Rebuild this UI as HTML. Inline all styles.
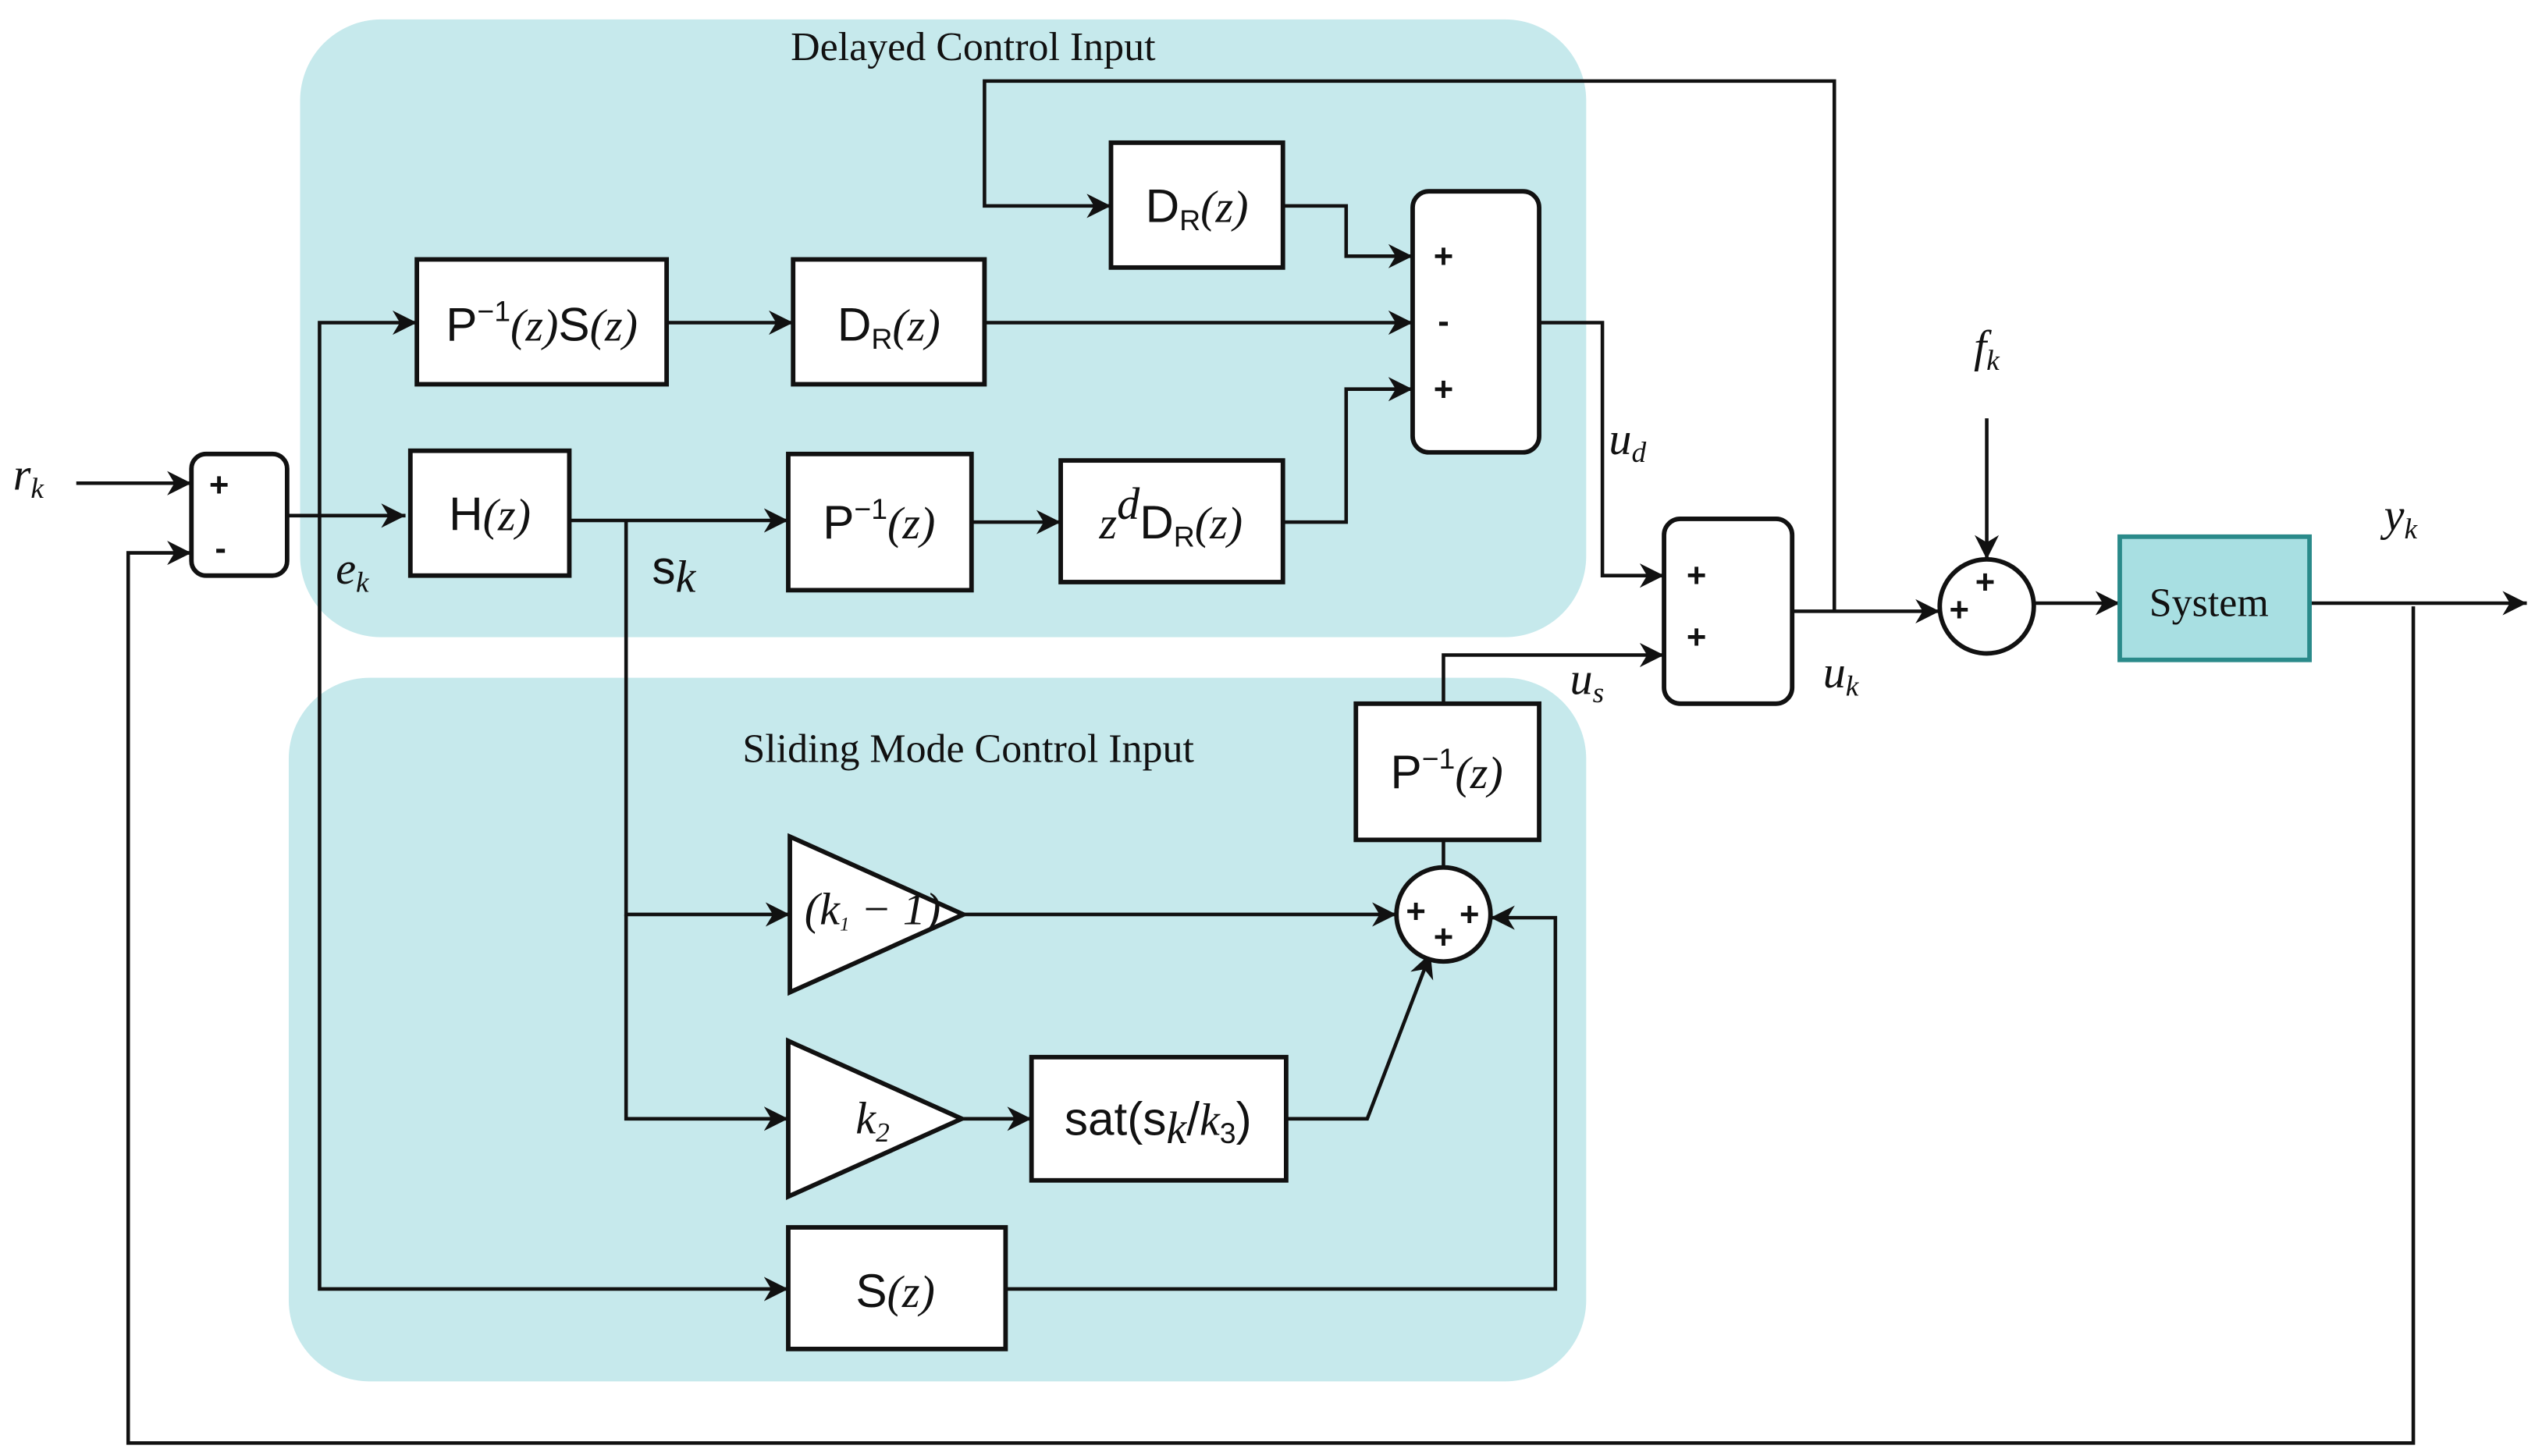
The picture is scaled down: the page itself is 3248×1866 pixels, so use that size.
<!DOCTYPE html>
<html><head><meta charset="utf-8"><style>
html,body{margin:0;padding:0;background:#fff}
svg{display:block}
.s{font-family:"Liberation Sans",sans-serif;font-size:29px;fill:#111}
.m{font-family:"Liberation Serif",serif;font-style:italic;font-size:28px;fill:#111}
.t{font-family:"Liberation Serif",serif;font-size:25px;fill:#111}
.p{font-family:"Liberation Sans",sans-serif;font-weight:bold;font-size:21px;fill:#111}
</style></head><body>
<svg width="3248" height="1866" viewBox="0 0 1563 898" xmlns="http://www.w3.org/2000/svg">
<defs>
<marker id="b" viewBox="0 0 10 10" refX="10" refY="5" markerWidth="15" markerHeight="15" orient="auto" markerUnits="userSpaceOnUse"><path d="M0,0 L10,5 L0,10 L3,5z" fill="#111"/></marker></defs>
<rect x="185" y="12" width="793" height="381" rx="50" fill="#c6e9ec"/>
<rect x="178" y="418" width="800" height="434" rx="50" fill="#c6e9ec"/>
<text class="t" x="600" y="37" text-anchor="middle">Delayed Control Input</text>
<text class="t" x="597" y="470" text-anchor="middle">Sliding Mode Control Input</text>
<g fill="none" stroke="#111" stroke-width="2.2" marker-end="url(#b)">
<path d="M47,298H118"/>
<path d="M1488,374V890H79V341H118"/>
<path d="M177,318H250"/>
<path d="M197,318V199H257"/>
<path d="M197,318V795H486"/>
<path d="M351,321H486"/>
<path d="M386,321V564H487"/>
<path d="M386,564V690H486"/>
<path d="M411,199H489"/>
<path d="M607,199H871"/>
<path d="M599,322H654"/>
<path d="M791,322H830V240H871"/>
<path d="M791,127H830V158H871"/>
<path d="M1131,377V50H607V127H685"/>
<path d="M949,199H988V355H1026"/>
<path d="M1105,377H1196"/>
<path d="M1225,258V345"/>
<path d="M1254,372H1307"/>
<path d="M1424,372H1558"/>
<path d="M890,434V404H1026"/>
<path d="M594,564H861"/>
<path d="M593,690H636"/>
<path d="M793,690H843L882,588"/>
<path d="M620,795H959V566H919"/>
</g>
<path d="M890,535V518" stroke="#111" stroke-width="2.2"/>
<g fill="#fff" stroke="#111" stroke-width="2.8">
<rect x="685" y="88" width="106" height="77"/>
<rect x="257" y="160" width="154" height="77"/>
<rect x="489" y="160" width="118" height="77"/>
<rect x="253" y="278" width="98" height="77"/>
<rect x="486" y="280" width="113" height="84"/>
<rect x="654" y="284" width="137" height="75"/>
<rect x="871" y="118" width="78" height="161" rx="10"/>
<rect x="118" y="280" width="59" height="75" rx="9"/>
<rect x="1026" y="320" width="79" height="114" rx="10"/>
<circle cx="1225" cy="374" r="29"/>
<rect x="836" y="434" width="113" height="84"/>
<path d="M487,516L487,612L594,564Z"/>
<path d="M486,642L486,738L593,690Z"/>
<rect x="636" y="652" width="157" height="76"/>
<rect x="486" y="757" width="134" height="75"/>
<circle cx="890" cy="564" r="29"/>
</g>
<rect x="1307" y="331" width="117" height="76" fill="#a8dfe2" stroke="#2a8a8a" stroke-width="2.8"/>
<text class="t" x="1362" y="380" text-anchor="middle" font-size="29">System</text>
<text class="s" x="738" y="137" text-anchor="middle">D<tspan font-size="18" dy="5">R</tspan><tspan class="m" dy="-5">(z)</tspan></text>
<text class="s" x="334" y="210" text-anchor="middle">P<tspan font-size="18" dy="-12">−1</tspan><tspan class="m" dy="12">(z)</tspan>S<tspan class="m">(z)</tspan></text>
<text class="s" x="548" y="210" text-anchor="middle">D<tspan font-size="18" dy="5">R</tspan><tspan class="m" dy="-5">(z)</tspan></text>
<text class="s" x="302" y="327" text-anchor="middle">H<tspan class="m">(z)</tspan></text>
<text class="s" x="542" y="332" text-anchor="middle">P<tspan font-size="18" dy="-12">−1</tspan><tspan class="m" dy="12">(z)</tspan></text>
<text class="s" x="722" y="332" text-anchor="middle"><tspan class="m">z</tspan><tspan class="m" font-size="17" dy="-12">d</tspan><tspan dy="12">D</tspan><tspan font-size="18" dy="5">R</tspan><tspan class="m" dy="-5">(z)</tspan></text>
<text class="s" x="892" y="486" text-anchor="middle">P<tspan font-size="18" dy="-12">−1</tspan><tspan class="m" dy="12">(z)</tspan></text>
<text class="m" x="538" y="570" text-anchor="middle" font-size="18">(k<tspan font-size="12" dy="4">1</tspan><tspan dy="-4"> − 1)</tspan></text>
<text class="m" x="538" y="699" text-anchor="middle">k<tspan font-size="17" dy="5">2</tspan></text>
<text class="s" x="714" y="700" text-anchor="middle">sat(s<tspan class="m" font-size="18" dy="5">k</tspan><tspan dy="-5">/</tspan><tspan class="m">k</tspan><tspan font-size="18" dy="5">3</tspan><tspan dy="-5">)</tspan></text>
<text class="s" x="552" y="806" text-anchor="middle">S<tspan class="m">(z)</tspan></text>
<g class="p" text-anchor="middle">
<text x="890" y="165">+</text><text x="890" y="205">-</text><text x="890" y="247">+</text>
<text x="135" y="306">+</text><text x="136" y="345">-</text>
<text x="1046" y="362">+</text><text x="1046" y="400">+</text>
<text x="1224" y="366">+</text><text x="1208" y="383">+</text>
<text x="873" y="569">+</text><text x="906" y="571">+</text><text x="890" y="585">+</text>
</g>
<g class="m">
<text x="8" y="302">r<tspan font-size="18" dy="5">k</tspan></text>
<text x="207" y="360">e<tspan font-size="18" dy="5">k</tspan></text>
<text x="1217" y="223">f<tspan font-size="18" dy="5">k</tspan></text>
<text x="1470" y="327">y<tspan font-size="18" dy="5">k</tspan></text>
<text x="992" y="280">u<tspan font-size="18" dy="5">d</tspan></text>
<text x="968" y="428">u<tspan font-size="18" dy="5">s</tspan></text>
<text x="1124" y="424">u<tspan font-size="18" dy="5">k</tspan></text>
</g>
<text class="s" x="402" y="360" font-size="23">s<tspan class="m" font-size="18" dy="5">k</tspan></text>
</svg>
</body></html>
